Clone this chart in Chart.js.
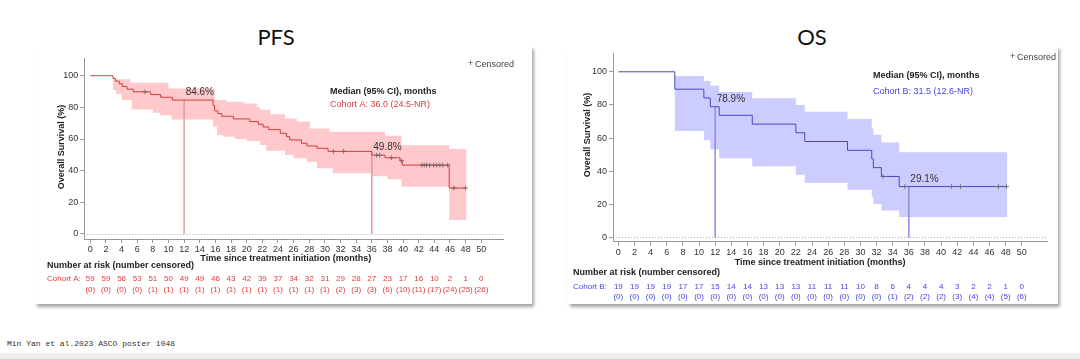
<!DOCTYPE html>
<html>
<head>
<meta charset="utf-8">
<script src="https://cdn.jsdelivr.net/npm/chart.js@4.4.0/dist/chart.umd.min.js"></script>
<style>
  body { margin: 0; width: 1080px; height: 359px; background: #fff; position: relative; overflow: hidden; font-family: "Liberation Sans", Arial, sans-serif; }
  .title { position: absolute; top: 24px; font-family: Lato, "Open Sans", sans-serif; font-size: 22px; color: #111; transform: translateX(-50%); line-height: 26px; }
  .panel { position: absolute; top: 46px; height: 258px; background: #fff; box-shadow: 2px 3px 3px rgba(0,0,0,.35); }
  .panel canvas { position: absolute; left: 0; top: 0; }
  #footer { position: absolute; left: 7px; top: 339px; font: 8px "Liberation Mono", monospace; color: #333; }
  #strip { position: absolute; left: 0; top: 353px; width: 1080px; height: 6px; background: #eee; }
</style>
</head>
<body>
<div class="title" style="left:276px">PFS</div>
<div class="title" style="left:812px">OS</div>
<div class="panel" style="left:35px;width:497px"><canvas id="chartPfs" width="497" height="258"></canvas></div>
<div class="panel" style="left:568px;width:490px"><canvas id="chartOs" width="490" height="258"></canvas></div>
<div id="footer">Min Yan et al.2023 ASCO poster 1048</div>
<div id="strip"></div>
<script>
// Оси
const xTicks = [0, 2, 4, 6, 8, 10, 12, 14, 16, 18, 20, 22, 24, 26, 28, 30, 32, 34, 36, 38, 40, 42, 44, 46, 48, 50];
const yTicks = [0, 20, 40, 60, 80, 100];

// PFS (Cohort A)
const pfsTime = [0, 2.9, 3.2, 3.7, 4.1, 4.7, 5.5, 7.7, 9.0, 10.5, 15.7, 15.9, 16.3, 16.8, 18.3, 20.4, 21.5, 22.1, 22.8, 24.3, 25.1, 25.5, 27.0, 27.7, 29.0, 30.4, 36.0, 37.7, 39.6, 39.9, 45.9, 48.1];
const pfsSurv = [100, 98.3, 96.6, 94.9, 93.2, 91.5, 89.8, 88.1, 86.4, 84.6, 81.2, 77.8, 76.1, 74.4, 72.7, 71.0, 69.3, 67.6, 65.9, 63.6, 61.5, 59.4, 57.3, 55.6, 54.1, 52.2, 49.8, 48.1, 46.3, 43.5, 29.0, 29.0];
const pfsCiTime  = [0, 2.9, 3.3, 4.0, 5.1, 5.3, 8.0, 8.9, 10.0, 10.4, 15.7, 15.9, 16.2, 17.0, 17.4, 18.5, 19.6, 20.0, 21.3, 21.7, 22.5, 23.0, 24.9, 26.0, 26.4, 27.7, 28.1, 29.0, 30.6, 31.0, 36.0, 37.7, 38.0, 39.8, 45.9, 48.1];
const pfsCiUpper = [100, 97.7, 97.7, 97.7, 95.6, 95.6, 95.6, 95.6, 92.0, 92.0, 92.0, 84.6, 84.6, 84.6, 83.6, 83.6, 82.5, 82.5, 80.0, 78.5, 78.5, 75.6, 73.0, 73.0, 71.0, 71.0, 66.7, 66.7, 64.6, 64.6, 64.6, 62.0, 62.0, 56.0, 53.7, 53.7];
const pfsCiLower = [100, 90.9, 88.4, 84.6, 84.6, 78.7, 76.6, 75.0, 75.0, 72.4, 67.8, 67.8, 62.5, 61.5, 61.5, 60.0, 60.0, 58.7, 58.7, 56.2, 52.6, 52.6, 49.9, 47.8, 47.8, 45.7, 45.7, 41.5, 41.5, 38.3, 36.5, 36.5, 34.5, 29.9, 8.8, 8.8];
const pfsCensored = [7.0, 31.1, 32.4, 36.6, 37.0, 38.5, 39.8, 42.4, 42.7, 43.0, 43.4, 43.9, 44.3, 44.7, 45.1, 45.7, 46.5, 48.0];
const pfsMarks = [12, 36];
const pfsMarkLabels = ['84.6%', '49.8%'];
const pfsAtRisk = [59, 59, 56, 53, 51, 50, 49, 49, 46, 43, 42, 39, 37, 34, 32, 31, 29, 28, 27, 23, 17, 16, 10, 2, 1, 0];
const pfsAtRiskCens = [0, 0, 0, 0, 1, 1, 1, 1, 1, 1, 1, 1, 1, 1, 1, 1, 2, 3, 3, 6, 10, 11, 17, 24, 25, 26];

// OS (Cohort B)
const osTime = [0, 7.0, 10.6, 11.4, 12.5, 16.6, 22.0, 23.1, 28.4, 31.4, 31.6, 32.6, 34.8, 48.2];
const osSurv = [100, 89.5, 84.2, 78.9, 73.7, 68.4, 63.2, 57.9, 52.6, 47.4, 42.1, 36.8, 30.7, 30.7];
const osCiTime  = [0, 7.0, 10.6, 11.4, 12.5, 16.6, 22.0, 23.1, 28.4, 31.4, 31.6, 32.6, 34.8, 48.2];
const osCiUpper = [100, 97.5, 94.5, 91.5, 87.8, 84.0, 80.0, 75.9, 71.5, 66.0, 62.0, 57.3, 51.4, 51.4];
const osCiLower = [100, 64.2, 58.7, 53.2, 47.8, 42.9, 37.9, 33.0, 28.7, 24.5, 20.2, 16.2, 12.3, 12.3];
const osCensored = [32.8, 35.5, 41.3, 42.4, 47.1, 48.1];
const osMarks = [12, 36];
const osMarkLabels = ['78.9%', '29.1%'];
const osAtRisk = [19, 19, 19, 19, 17, 17, 15, 14, 14, 13, 13, 13, 11, 11, 11, 10, 8, 6, 4, 4, 4, 3, 2, 2, 1, 0];
const osAtRiskCens = [0, 0, 0, 0, 0, 0, 0, 0, 0, 0, 0, 0, 0, 0, 0, 0, 0, 1, 2, 2, 2, 3, 4, 4, 5, 6];

const FONT = '"Liberation Sans", Arial, sans-serif';

// значение ступенчатой кривой в момент t
function survAt(times, vals, t) {
  let v = vals[0];
  for (let i = 0; i < times.length; i++) if (times[i] <= t) v = vals[i];
  return v;
}

const pts = (xs, ys) => xs.map((x, i) => ({ x, y: ys[i] }));

function kmChart(id, o) {
  const datasets = [
    { data: pts(o.ciTime, o.ciUpper), showLine: true, stepped: true, borderColor: 'transparent', borderWidth: 1, pointRadius: 0, fill: false, order: 5 },
    { data: pts(o.ciTime, o.ciLower), showLine: true, stepped: true, borderColor: 'transparent', borderWidth: 1, pointRadius: 0, fill: '-1', backgroundColor: o.band, order: 5 },
    { data: pts(o.time, o.surv), showLine: true, stepped: true, borderColor: o.line, borderWidth: 1, pointRadius: 0, fill: false, order: 1 },
    { data: o.censored.map(t => ({ x: t, y: survAt(o.time, o.surv, t) })), showLine: false, pointStyle: 'cross',
      pointRadius: 2.5, borderColor: '#666', borderWidth: 0.8, order: 0 },
  ];
  o.marks.forEach(t => datasets.push({
    data: [{ x: t, y: survAt(o.time, o.surv, t - 0.01) }, { x: t, y: 0 }],
    showLine: true, borderColor: o.markLine, borderWidth: 0.8, pointRadius: 0, fill: false, order: 2,
  }));

  const textPlugin = {
    id: 'kmText',
    beforeDatasetsDraw(chart) {
      const { ctx, chartArea: a, scales: { y } } = chart;
      const py = Math.round(y.getPixelForValue(0)) + 0.5;
      ctx.save();
      ctx.strokeStyle = '#aaa';
      ctx.lineWidth = 1;
      ctx.setLineDash([1, 2]);
      ctx.beginPath(); ctx.moveTo(a.left, py); ctx.lineTo(a.right, py); ctx.stroke();
      ctx.restore();
    },
    afterDraw(chart) {
      const { ctx, scales: { x, y } } = chart;
      ctx.save();
      ctx.textBaseline = 'middle';

      // подписи 12 / 36 мес.
      ctx.font = `10px ${FONT}`;
      ctx.fillStyle = '#333';
      ctx.textAlign = 'left';
      o.marks.forEach((t, i) => {
        ctx.fillText(o.markLabels[i], x.getPixelForValue(t) + 1.5, y.getPixelForValue(survAt(o.time, o.surv, t)) - 7.5);
      });

      // медиана
      ctx.font = `bold 9px ${FONT}`;
      ctx.fillStyle = '#222';
      ctx.fillText('Median (95% CI), months', o.medX, o.medY);
      ctx.font = `9px ${FONT}`;
      ctx.fillStyle = o.text;
      ctx.fillText(o.medText, o.medX, o.medY + o.medGap);

      // легенда
      ctx.fillStyle = '#444';
      ctx.font = `9px ${FONT}`;
      ctx.fillText('+', o.censX - 7, o.censY - 1);
      ctx.fillText('Censored', o.censX, o.censY);

      // заголовки осей
      ctx.font = `bold 9px ${FONT}`;
      ctx.fillStyle = '#222';
      ctx.textAlign = 'center';
      ctx.fillText('Time since treatment initiation (months)', x.getPixelForValue(25), o.xTitleY);
      ctx.save();
      ctx.translate(o.yTitleX, o.yTitleY);
      ctx.rotate(-Math.PI / 2);
      ctx.fillText('Overall Survival (%)', 0, 0);
      ctx.restore();

      // number at risk
      ctx.textAlign = 'left';
      ctx.fillText('Number at risk (number censored)', o.riskX, o.riskY);
      ctx.font = `8px ${FONT}`;
      ctx.fillStyle = o.text;
      ctx.fillText(o.cohort, o.riskX, o.riskY + o.rowGap);
      ctx.textAlign = 'center';
      xTicks.forEach((t, i) => {
        const px = x.getPixelForValue(t);
        ctx.fillText(String(o.atRisk[i]), px, o.riskY + o.rowGap);
        ctx.fillText(`(${o.atRiskCens[i]})`, px, o.riskY + o.rowGap + o.rowGap2);
      });
      ctx.restore();
    },
  };

  const axisCommon = {
    type: 'linear',
    grid: { drawOnChartArea: false, drawTicks: true, tickLength: 4, color: '#999' },
    border: { color: '#999' },
    ticks: { font: { size: 9, family: FONT }, color: '#333', autoSkip: false, maxRotation: 0 },
  };

  return new Chart(document.getElementById(id), {
    type: 'scatter',
    data: { datasets },
    options: {
      responsive: false,
      animation: false,
      devicePixelRatio: 1,
      layout: { padding: { left: 0, top: o.padTop, right: o.padRight, bottom: 0 } },
      plugins: { legend: { display: false }, tooltip: { enabled: false } },
      scales: {
        x: { ...axisCommon, min: o.xMin, max: o.xMax,
             ticks: { ...axisCommon.ticks, padding: 1 },
             afterBuildTicks: s => { s.ticks = xTicks.map(v => ({ value: v })); },
             afterFit: s => { s.height = o.xAxisH; } },
        y: { ...axisCommon, min: o.yMin, max: o.yMax,
             ticks: { ...axisCommon.ticks, padding: 2 },
             afterBuildTicks: s => { s.ticks = yTicks.map(v => ({ value: v })); },
             afterFit: s => { s.width = o.yAxisW; } },
      },
    },
    plugins: [textPlugin],
  });
}

kmChart('chartPfs', {
  time: pfsTime, surv: pfsSurv, ciTime: pfsCiTime, ciUpper: pfsCiUpper, ciLower: pfsCiLower,
  censored: pfsCensored, marks: pfsMarks, markLabels: pfsMarkLabels, atRisk: pfsAtRisk, atRiskCens: pfsAtRiskCens,
  line: '#d23a3a', band: 'rgba(255,165,170,0.6)', markLine: '#e09a9a', text: '#e03c3c',
  medText: 'Cohort A: 36.0 (24.5-NR)', cohort: 'Cohort A:',
  xMin: -0.77, xMax: 52.78, yMin: -3.2, yMax: 111.2,
  padTop: 12, padRight: 29, xAxisH: 65, yAxisW: 49.3,
  medX: 295, medY: 46, medGap: 12.5, censX: 440, censY: 19,
  xTitleY: 213, yTitleX: 27, yTitleY: 101,
  riskX: 12, riskY: 220, rowGap: 13, rowGap2: 11,
});

kmChart('chartOs', {
  time: osTime, surv: osSurv, ciTime: osCiTime, ciUpper: osCiUpper, ciLower: osCiLower,
  censored: osCensored, marks: osMarks, markLabels: osMarkLabels, atRisk: osAtRisk, atRiskCens: osAtRiskCens,
  line: '#4848c8', band: 'rgba(170,170,255,0.6)', markLine: '#8c8cec', text: '#4646e0',
  medText: 'Cohort B: 31.5 (12.6-NR)', cohort: 'Cohort B:',
  xMin: -0.66, xMax: 53.12, yMin: -2.6, yMax: 111.1,
  padTop: 4, padRight: 11, xAxisH: 62.3, yAxisW: 45,
  medX: 305, medY: 30, medGap: 16, censX: 449, censY: 11.7,
  xTitleY: 217, yTitleX: 20, yTitleY: 89,
  riskX: 5, riskY: 227, rowGap: 13.5, rowGap2: 10.6,
});
</script>
</body>
</html>
